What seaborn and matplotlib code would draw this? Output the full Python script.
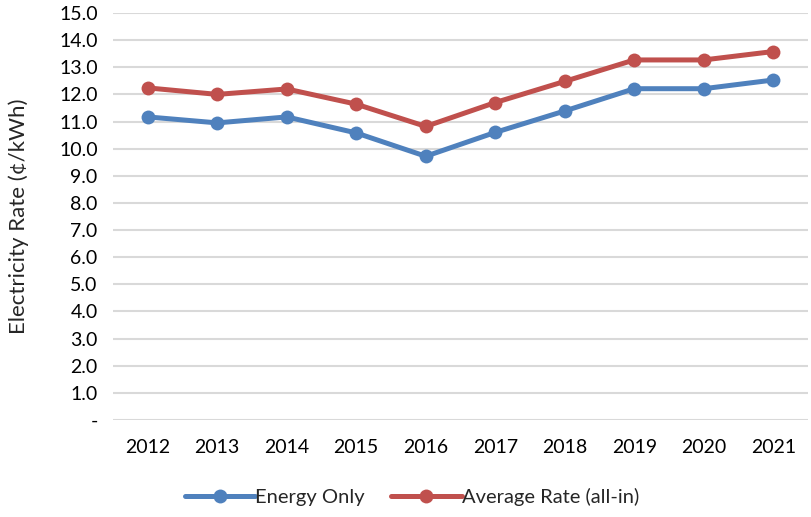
import numpy as np
import pandas as pd
import matplotlib.pyplot as plt
import seaborn as sns
from matplotlib.ticker import FuncFormatter

# data
years = ["2012", "2013", "2014", "2015", "2016", "2017", "2018", "2019", "2020", "2021"]
energy_only = [11.17, 10.95, 11.17, 10.58, 9.72, 10.60, 11.39, 12.21, 12.21, 12.53]
average_rate = [12.24, 12.00, 12.20, 11.64, 10.82, 11.70, 12.48, 13.27, 13.27, 13.58]
series_names = ["Energy Only", "Average Rate (all-in)"]

df = pd.DataFrame({
    "Year": years * 2,
    "Rate": energy_only + average_rate,
    "Series": [series_names[0]] * len(years) + [series_names[1]] * len(years),
})

sns.set_style("white")
plt.rcParams['font.family'] = ['Lato', 'DejaVu Sans']

fig = plt.figure(figsize=(8.11, 5.17), dpi=100)
ax = fig.add_axes([113 / 811, 1 - 420 / 517, 695 / 811, 407 / 517])

sns.lineplot(
    data=df, x="Year", y="Rate", hue="Series",
    palette=["#4F81BD", "#C0504D"],
    marker="o", markersize=10, markeredgewidth=0,
    linewidth=3.6, ax=ax, sort=False,
)

ax.set_xlim(-0.5, len(years) - 0.5)
ax.set_ylim(0, 15)
ax.set_yticks(np.arange(0, 16, 1))
ax.yaxis.set_major_formatter(FuncFormatter(lambda v, p: "-" if v == 0 else f"{v:.1f}"))
ax.grid(axis="y", color="#D9D9D9", linewidth=1.5)
ax.set_axisbelow(True)
for s in ax.spines.values():
    s.set_visible(False)
ax.tick_params(axis="both", length=0, labelsize=14, colors="black")
ax.tick_params(axis="x", pad=14)
ax.tick_params(axis="y", pad=11)
ax.set_xlabel("")
ax.set_ylabel("Electricity Rate (¢/kWh)", fontsize=16, labelpad=22)

ax.legend(
    loc="center", bbox_to_anchor=(0.43, -0.19), ncol=2,
    frameon=False, fontsize=14.5, handlelength=3.5, handletextpad=0.0,
    columnspacing=1.3,
)

fig.savefig("out.png", dpi=100)
